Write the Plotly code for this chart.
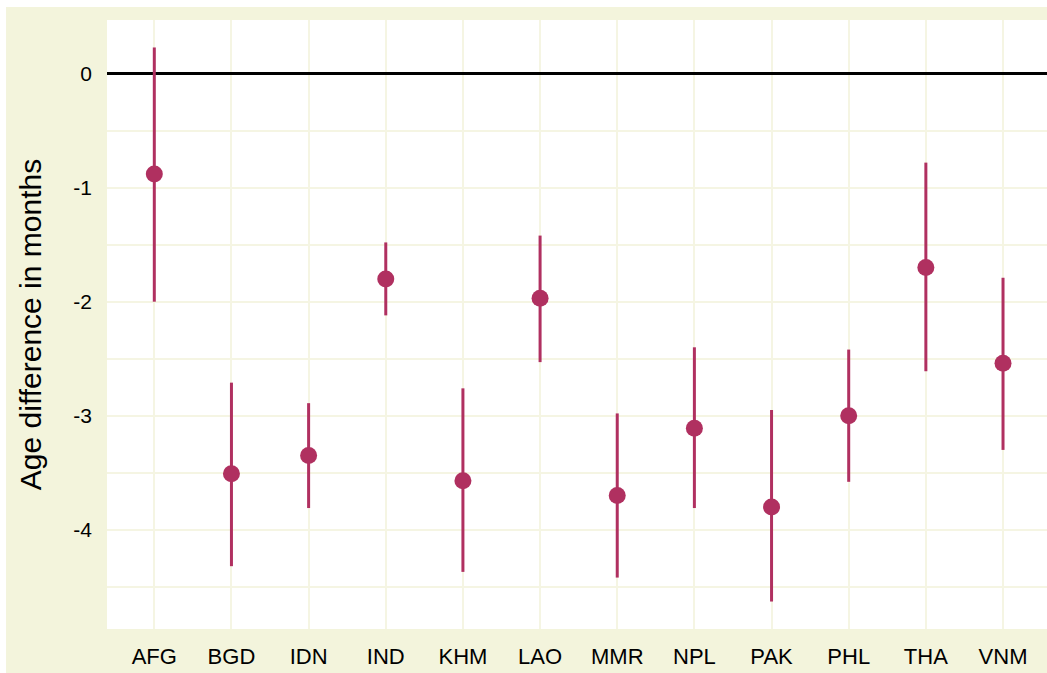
import plotly.graph_objects as go

# Country codes and estimated age differences (months) with confidence bounds
countries = ["AFG", "BGD", "IDN", "IND", "KHM", "LAO", "MMR", "NPL", "PAK", "PHL", "THA", "VNM"]
estimate = [-0.88, -3.51, -3.35, -1.80, -3.57, -1.97, -3.70, -3.11, -3.80, -3.00, -1.70, -2.54]
lower = [-2.00, -4.32, -3.81, -2.12, -4.37, -2.53, -4.42, -3.81, -4.63, -3.58, -2.61, -3.30]
upper = [0.23, -2.71, -2.89, -1.48, -2.76, -1.42, -2.98, -2.40, -2.95, -2.42, -0.78, -1.79]

y_ticks = [0, -1, -2, -3, -4]

POINT_COLOR = "#b03060"
BEIGE = "#f3f4dc"
GRID = "#f5f5e3"

err_plus = [u - e for u, e in zip(upper, estimate)]
err_minus = [e - l for e, l in zip(estimate, lower)]

fig = go.Figure()
fig.add_trace(go.Scatter(
    x=countries,
    y=estimate,
    mode="markers",
    marker=dict(size=17, color=POINT_COLOR),
    error_y=dict(type="data", symmetric=False, array=err_plus, arrayminus=err_minus,
                 color=POINT_COLOR, thickness=3, width=0),
    showlegend=False,
))

# Beige backdrop around the panel, with a white panel on top of it
fig.add_shape(type="rect", xref="paper", yref="paper", x0=-0.1074, x1=1.02, y0=-0.1, y1=1.0213,
              fillcolor=BEIGE, line_width=0, layer="below")
fig.add_shape(type="rect", xref="x domain", yref="y domain", x0=0, x1=1, y0=0, y1=1,
              fillcolor="white", line_width=0, layer="below")

fig.update_layout(
    width=1047, height=673,
    margin=dict(l=107, r=0, t=20, b=44),
    paper_bgcolor="white",
    plot_bgcolor="white",
    font=dict(family="Liberation Sans, Arial, sans-serif", color="black"),
)
fig.update_xaxes(
    range=[-0.613, 11.57],
    showgrid=True, gridcolor=GRID, gridwidth=1.5,
    showline=False, zeroline=False,
    ticks="", ticklabelstandoff=12,
    tickfont=dict(size=22, family="Liberation Sans Narrow, Arial Narrow, Liberation Sans, sans-serif"),
)
fig.update_yaxes(
    range=[-4.871, 0.471],
    tickvals=y_ticks, ticktext=[str(v) for v in y_ticks],
    showgrid=True, gridcolor=GRID, gridwidth=1.5,
    minor=dict(dtick=0.5, tick0=0, showgrid=True, gridcolor=GRID, gridwidth=1.5),
    zeroline=True, zerolinecolor="black", zerolinewidth=2.5,
    showline=False, ticks="", ticklabelstandoff=14,
    tickfont=dict(size=21),
    title=dict(text="Age difference in months", font=dict(size=30), standoff=22),
)

fig.write_html("out.html")
